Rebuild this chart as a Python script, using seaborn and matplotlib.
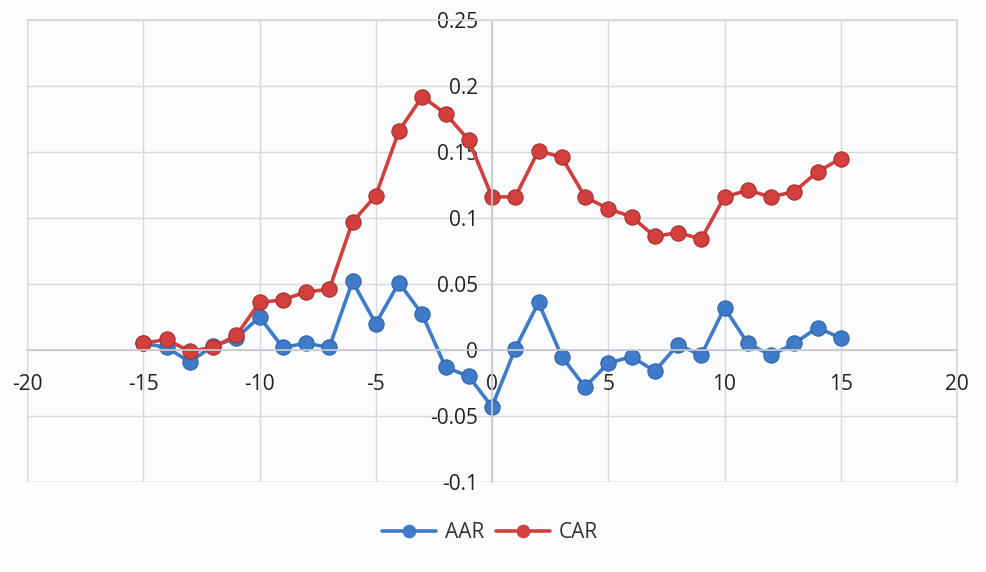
import numpy as np
import pandas as pd
import matplotlib
matplotlib.use("Agg")
import matplotlib.pyplot as plt
import seaborn as sns

days = list(range(-15, 16))
aar = [0.005, 0.002, -0.009, 0.003, 0.009, 0.025, 0.002, 0.005, 0.002, 0.052,
       0.020, 0.051, 0.027, -0.013, -0.020, -0.043, 0.001, 0.036, -0.005, -0.028,
       -0.010, -0.005, -0.016, 0.004, -0.004, 0.032, 0.005, -0.004, 0.005, 0.017, 0.009]
car = [0.005, 0.008, -0.001, 0.002, 0.011, 0.036, 0.038, 0.044, 0.046, 0.097,
       0.117, 0.166, 0.192, 0.179, 0.159, 0.116, 0.116, 0.151, 0.146, 0.116,
       0.107, 0.101, 0.086, 0.089, 0.084, 0.116, 0.121, 0.116, 0.120, 0.135, 0.145]
series_names = ["AAR", "CAR"]
x_ticks = [-20, -15, -10, -5, 0, 5, 10, 15, 20]
y_ticks = [-0.1, -0.05, 0, 0.05, 0.1, 0.15, 0.2, 0.25]
y_tick_labels = ["-0.1", "-0.05", "0", "0.05", "0.1", "0.15", "0.2", "0.25"]

df = pd.DataFrame({
    "day": days * 2,
    "value": aar + car,
    "series": [series_names[0]] * len(days) + [series_names[1]] * len(days),
})

sns.set_theme(style="white")
plt.rcParams["font.family"] = ["Open Sans", "DejaVu Sans"]

bg = "#fbfcfe"
fig = plt.figure(figsize=(9.86, 5.72), dpi=100, facecolor=bg)
ax = fig.add_axes([27 / 986, 1 - 482 / 572, (957 - 27) / 986, (482 - 20) / 572])
ax.set_facecolor(bg)

palette = {"AAR": "#3f7bc8", "CAR": "#d23f3c"}
sns.lineplot(data=df, x="day", y="value", hue="series", palette=palette,
             marker="o", markersize=11, linewidth=2.6, markeredgewidth=0.8,
             markeredgecolor=None, ax=ax, legend=True)
for line, ec in zip(ax.lines[:2], ["#2f64a8", "#a8302e"]):
    line.set_markeredgecolor(ec)

ax.set_xlim(-20, 20)
ax.set_ylim(-0.1, 0.25)
ax.set_xticks(x_ticks)
ax.set_xticklabels([str(t) for t in x_ticks])
ax.set_yticks(y_ticks)
ax.set_yticklabels(y_tick_labels)
ax.set_xlabel("")
ax.set_ylabel("")
ax.grid(True, color="#d6d8dc", linewidth=1.0)
ax.set_axisbelow(True)

for s in ["top", "right"]:
    ax.spines[s].set_color("#d6d8dc")
ax.spines["left"].set_position(("data", 0))
ax.spines["bottom"].set_position(("data", 0))
ax.spines["left"].set_color("#c8cacf")
ax.spines["bottom"].set_color("#c8cacf")
ax.tick_params(axis="both", length=0, labelsize=15, colors="#222222")
ax.tick_params(axis="x", pad=17)
ax.tick_params(axis="y", pad=10)

# frame borders at plot edges
ax.axvline(-20, color="#d6d8dc", linewidth=1.0, zorder=0)
ax.axhline(-0.1, color="#d6d8dc", linewidth=1.0, zorder=0)

ax.get_legend().remove()
handles, labels = ax.get_legend_handles_labels()
for h in handles[:2]:
    h.set_markersize(9)
fig.legend(handles[:2], labels[:2], loc="center", bbox_to_anchor=(490 / 986, 1 - 533 / 572),
           ncol=2, frameon=False, fontsize=15, handlelength=2.6, columnspacing=0.6,
           handletextpad=0.4, labelcolor="#333333")

fig.savefig("out.png", dpi=100, facecolor=bg)
